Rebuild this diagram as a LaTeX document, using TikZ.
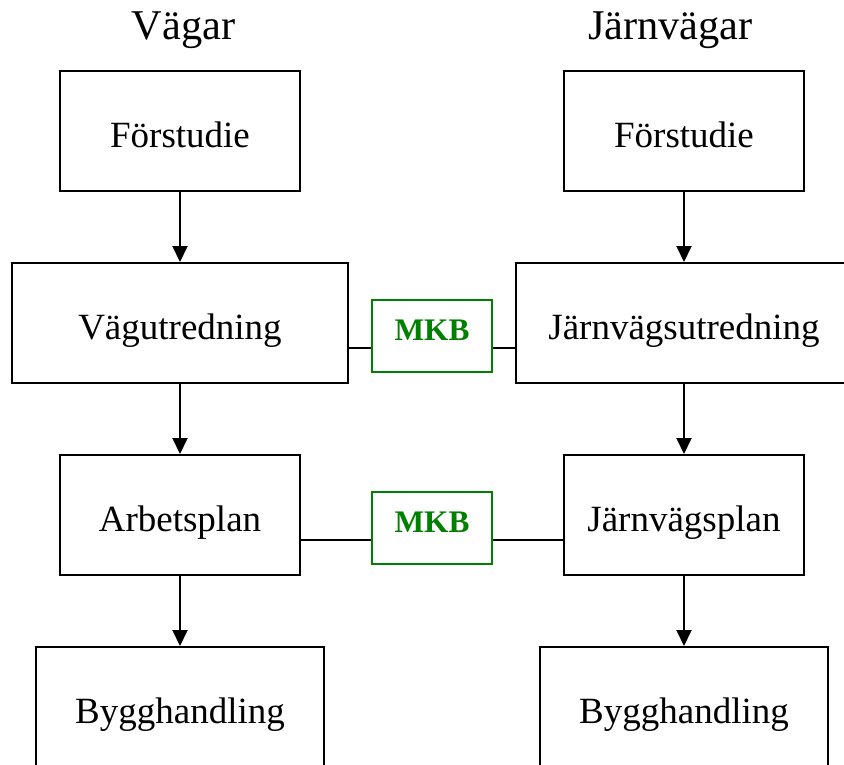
\documentclass[tikz,border=0pt]{standalone}
\usepackage{fontspec}
\setmainfont{Liberation Serif}
\usetikzlibrary{arrows.meta}
\definecolor{mkbgreen}{RGB}{0,128,0}
\begin{document}
\begin{tikzpicture}[x=1pt,y=-1pt,
  box/.style={draw=black,line width=2pt,inner sep=0pt,text height=33pt,text depth=0pt,
    font=\fontsize{37}{44}\selectfont},
  mkb/.style={draw=mkbgreen,line width=2pt,inner sep=0pt,minimum width=120pt,minimum height=72pt,
    text=mkbgreen,text height=21pt,text depth=11.6pt,font=\fontsize{31.4}{36}\selectfont\bfseries},
  title/.style={anchor=base,inner sep=0pt,font=\fontsize{42.4}{50}\selectfont},
  arr/.style={line width=2pt,-{Triangle[length=16pt,width=15pt]}},
  conn/.style={line width=2pt}]
\useasboundingbox (0,0) rectangle (844,765);
\node[title] (tl) at (183.5,40) {Vägar};
\node[title] (tr) at (670.5,40) {Järnvägar};
\node[box,minimum width=240pt,minimum height=120pt] (f1) at (180,131) {Förstudie};
\node[box,minimum width=336pt,minimum height=120pt] (vu) at (180,323) {Vägutredning};
\node[box,minimum width=240pt,minimum height=120pt] (ap) at (180,515) {Arbetsplan};
\node[box,minimum width=288pt,minimum height=120pt] (b1) at (180,707) {Bygghandling};
\node[box,minimum width=240pt,minimum height=120pt] (f2) at (684,131) {Förstudie};
\node[box,minimum width=336pt,minimum height=120pt] (ju) at (684,323) {Järnvägsutredning};
\node[box,minimum width=240pt,minimum height=120pt] (jp) at (684,515) {Järnvägsplan};
\node[box,minimum width=288pt,minimum height=120pt] (b2) at (684,707) {Bygghandling};
\node[mkb] (m1) at (432,336) {MKB};
\node[mkb] (m2) at (432,528) {MKB};
\coordinate (r1) at (432,347.7);
\coordinate (r2) at (432,539.7);
\draw[arr] (f1) -- (vu);
\draw[arr] (vu) -- (ap);
\draw[arr] (ap) -- (b1);
\draw[arr] (f2) -- (ju);
\draw[arr] (ju) -- (jp);
\draw[arr] (jp) -- (b2);
\draw[conn] (vu.east |- r1) -- (m1.west |- r1);
\draw[conn] (m1.east |- r1) -- (ju.west |- r1);
\draw[conn] (ap.east |- r2) -- (m2.west |- r2);
\draw[conn] (m2.east |- r2) -- (jp.west |- r2);
\end{tikzpicture}
\end{document}
